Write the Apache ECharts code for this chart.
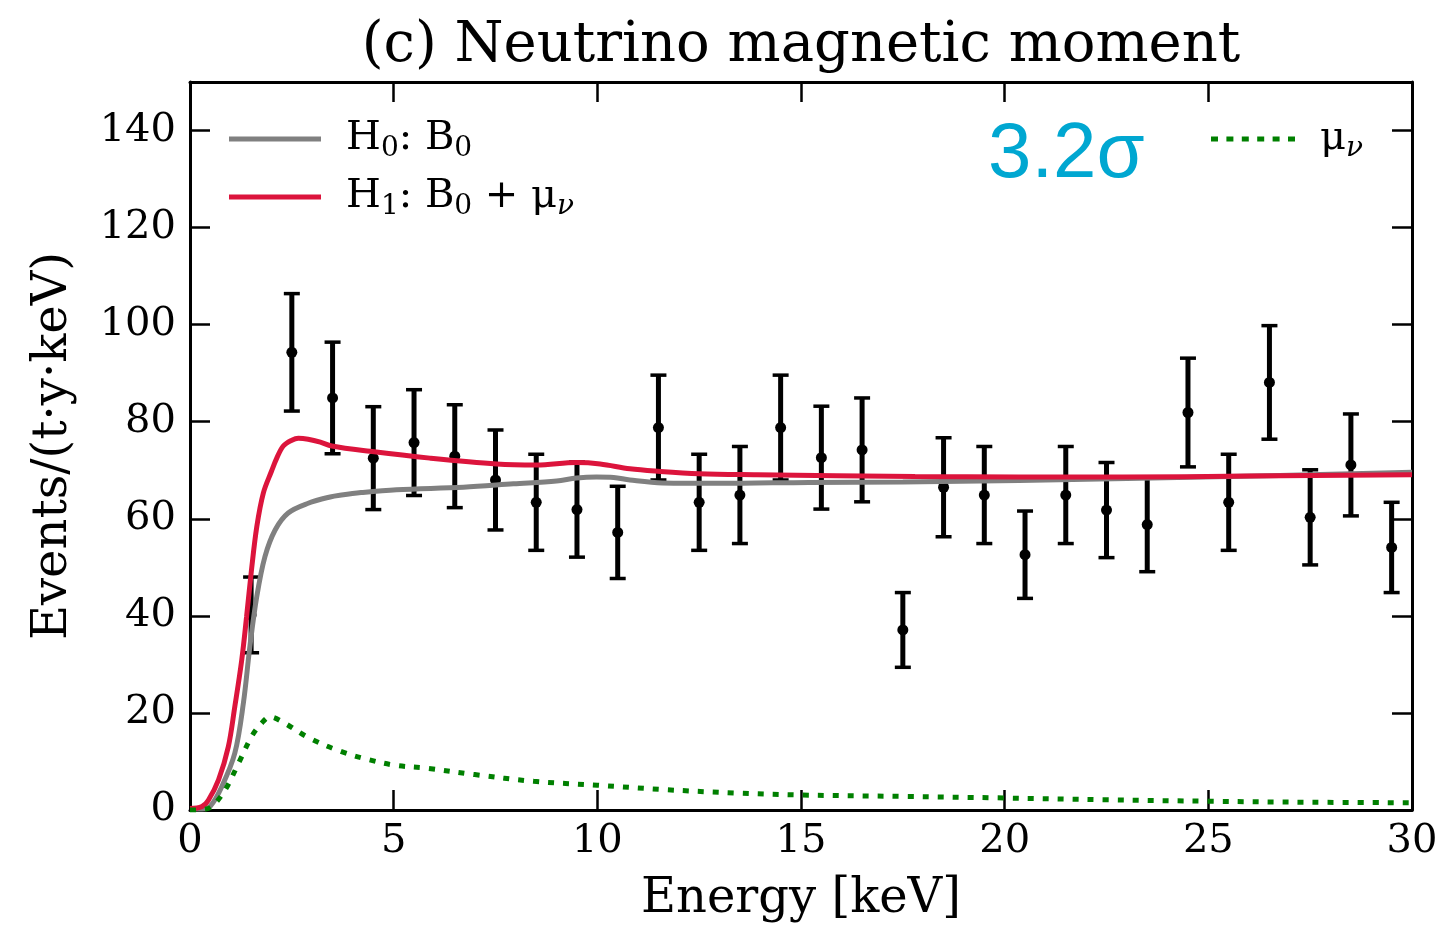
<!DOCTYPE html>
<html>
<head>
<meta charset="utf-8">
<script src="https://cdn.jsdelivr.net/npm/echarts@6/dist/echarts.min.js"></script>
<style>html,body{margin:0;padding:0;background:#fff;}#c{width:1444px;height:930px;}</style>
</head>
<body>
<div id="c"></div>
<script>
// ---- data ----
const energy = [1.5,2.5,3.5,4.5,5.5,6.5,7.5,8.5,9.5,10.5,11.5,12.5,13.5,14.5,15.5,16.5,17.5,18.5,19.5,20.5,21.5,22.5,23.5,24.5,25.5,26.5,27.5,28.5,29.5];
const counts = [40.2,94.3,84.9,72.5,75.7,72.9,68.0,63.4,61.9,57.2,78.8,63.4,64.9,78.8,72.6,74.2,37.1,66.5,64.9,52.6,64.9,61.8,58.8,81.9,63.4,88.1,60.3,71.1,54.1];
const errs   = [7.8,12.1,11.5,10.6,10.9,10.6,10.3,9.9,9.8,9.5,10.8,9.9,10.0,10.8,10.6,10.7,7.7,10.2,10.0,9.0,10.0,9.8,9.7,11.2,9.9,11.7,9.8,10.5,9.3];

const xB0 = [0,0.3,0.5,0.78,1.1,1.31,1.47,1.64,1.84,2.09,2.41,2.9,3.44,3.72,4.2,5.07,6.71,7.94,9.0,9.49,9.98,10.4,10.8,11.6,13,15.2,17.5,20.35,23,25.5,28,30];
const yB0 = [0.2,0.2,0.8,4.8,11.7,22,33.7,44,52.2,57.7,61.2,63.2,64.5,64.9,65.4,66.0,66.5,67.2,67.8,68.4,68.6,68.5,68.0,67.4,67.3,67.5,67.6,67.9,68.3,68.7,69.2,69.6];

const xH1 = [0,0.29,0.45,0.7,0.94,1.1,1.27,1.39,1.51,1.64,1.8,2.0,2.13,2.29,2.5,2.66,2.9,3.2,3.48,4.42,5.89,7.53,8.51,9.49,10.07,10.8,11.48,12.5,13.92,17.8,22.9,26,30];
const yH1 = [0.3,0.7,2,6.2,13,21.3,30.9,39.9,49.5,58.4,65.3,69.8,72.5,75.0,76.2,76.6,76.4,75.8,75.0,73.9,72.5,71.3,71.1,71.6,71.3,70.3,69.8,69.3,69.1,68.7,68.6,68.8,69.1];

const xMu = [0,0.3,0.53,0.86,1.19,1.51,1.75,1.96,2.28,2.91,3.69,4.37,5.05,5.82,6.99,8.44,10.0,11.65,13.4,14.95,17.5,19.83,22.5,25.07,27.5,30];
const yMu = [0,0.1,0.7,4.1,9.6,15.1,17.8,19.2,18.1,14.9,12.1,10.4,9.2,8.6,7.3,5.9,5.1,4.2,3.5,3.1,2.8,2.5,2.1,1.8,1.6,1.5];

const SERIF = 'DejaVu Serif';
const pair = (xs, ys) => xs.map((x, i) => [x, ys[i]]);

const chart = echarts.init(document.getElementById('c'), null, {renderer: 'canvas'});

const axisLineStyle = {show: true, onZero: false, lineStyle: {color: '#000', width: 3}};
const tickStyle = {show: true, inside: true, length: 20, lineStyle: {color: '#000', width: 2.5}};

const rich = {
  p: {width: 20, fontSize: 40, fontFamily: SERIF},
  t: {fontSize: 40, lineHeight: 48, fontFamily: SERIF, color: '#000'},
  s: {fontSize: 28, lineHeight: 30, verticalAlign: 'bottom', fontFamily: SERIF, color: '#000'},
  i: {fontSize: 28, lineHeight: 30, verticalAlign: 'bottom', fontFamily: SERIF, fontStyle: 'italic', color: '#000'}
};
const legendText = {
  'H0': '{p| }{t|H}{s|0}{t|: B}{s|0}',
  'H1': '{p| }{t|H}{s|1}{t|: B}{s|0}{t| + μ}{i|ν}',
  'mu': '{p| }{t|μ}{i|ν}'
};
const dotIcon = 'path://M0,0h7v5h-7z M15.4,0h7v5h-7z M30.8,0h7v5h-7z M46.2,0h7v5h-7z M61.6,0h7v5h-7z M77,0h7v5h-7z';

chart.setOption({
  animation: false,
  backgroundColor: '#fff',
  grid: {left: 190, right: 32, top: 82, bottom: 120, containLabel: false},
  graphic: [
    {type: 'text', x: 801, y: 18,
     style: {text: '(c) Neutrino magnetic moment', font: '56px "DejaVu Serif"', fill: '#000', textAlign: 'center', textVerticalAlign: 'top'}},
    {type: 'text', x: 988, y: 116,
     style: {text: '3.2σ', font: '78px "Liberation Sans"', fill: '#00a7d1', textAlign: 'left', textVerticalAlign: 'top'}}
  ],
  legend: [
    {data: [{name: 'H0', icon: 'rect'}, {name: 'H1', icon: 'rect'}], orient: 'vertical', left: 224, top: 114,
     itemWidth: 92, itemHeight: 5, itemGap: 14,
     formatter: n => legendText[n], textStyle: {rich: rich}},
    {data: [{name: 'mu', icon: dotIcon}], orient: 'vertical', left: 1206, top: 114, itemWidth: 84, itemHeight: 5,
     formatter: n => legendText[n], textStyle: {rich: rich}}
  ],
  xAxis: [
    {type: 'value', min: 0, max: 30, interval: 5, position: 'bottom',
     axisLine: axisLineStyle, axisTick: tickStyle, splitLine: {show: false},
     axisLabel: {fontSize: 40, fontFamily: SERIF, color: '#000', margin: 12},
     name: 'Energy [keV]', nameLocation: 'middle', nameGap: 66,
     nameTextStyle: {fontSize: 48, fontFamily: SERIF, color: '#000'}},
    {type: 'value', min: 0, max: 30, interval: 5, position: 'top',
     axisLine: axisLineStyle, axisTick: tickStyle, splitLine: {show: false}, axisLabel: {show: false}}
  ],
  yAxis: [
    {type: 'value', min: 0, max: 150, interval: 20, position: 'left',
     axisLine: axisLineStyle, axisTick: tickStyle, splitLine: {show: false},
     axisLabel: {fontSize: 40, fontFamily: SERIF, color: '#000', margin: 14, showMaxLabel: false},
     name: 'Events/(t·y·keV)', nameLocation: 'middle', nameGap: 112,
     nameTextStyle: {fontSize: 48, fontFamily: SERIF, color: '#000'}},
    {type: 'value', min: 0, max: 150, interval: 20, position: 'right',
     axisLine: axisLineStyle, axisTick: tickStyle, splitLine: {show: false}, axisLabel: {show: false}}
  ],
  series: [
    {type: 'custom', name: 'data', z: 1, xAxisIndex: 0, yAxisIndex: 0,
     data: energy.map((x, i) => [x, counts[i], errs[i]]),
     renderItem: function (params, api) {
       const x = api.value(0), y = api.value(1), e = api.value(2);
       const top = api.coord([x, y + e]), bot = api.coord([x, y - e]), c = api.coord([x, y]);
       const hw = 8;
       return {type: 'group', children: [
         {type: 'line', shape: {x1: top[0], y1: top[1], x2: bot[0], y2: bot[1]}, style: {stroke: '#000', lineWidth: 5}},
         {type: 'line', shape: {x1: top[0] - hw, y1: top[1], x2: top[0] + hw, y2: top[1]}, style: {stroke: '#000', lineWidth: 3.5}},
         {type: 'line', shape: {x1: bot[0] - hw, y1: bot[1], x2: bot[0] + hw, y2: bot[1]}, style: {stroke: '#000', lineWidth: 3.5}},
         {type: 'circle', shape: {cx: c[0], cy: c[1], r: 5.5}, style: {fill: '#000'}}
       ]};
     }},
    {type: 'line', name: 'H0', z: 3, data: pair(xB0, yB0), symbol: 'none', smooth: 0.35,
     lineStyle: {color: '#808080', width: 5}, itemStyle: {color: '#808080'}},
    {type: 'line', name: 'H1', z: 4, data: pair(xH1, yH1), symbol: 'none', smooth: 0.35,
     lineStyle: {color: '#dc143c', width: 5}, itemStyle: {color: '#dc143c'}},
    {type: 'line', name: 'mu', z: 4, data: pair(xMu, yMu), symbol: 'none', smooth: 0.35,
     lineStyle: {color: '#008000', width: 5, type: [6, 9]}, itemStyle: {color: '#008000'}}
  ]
});
</script>
</body>
</html>
